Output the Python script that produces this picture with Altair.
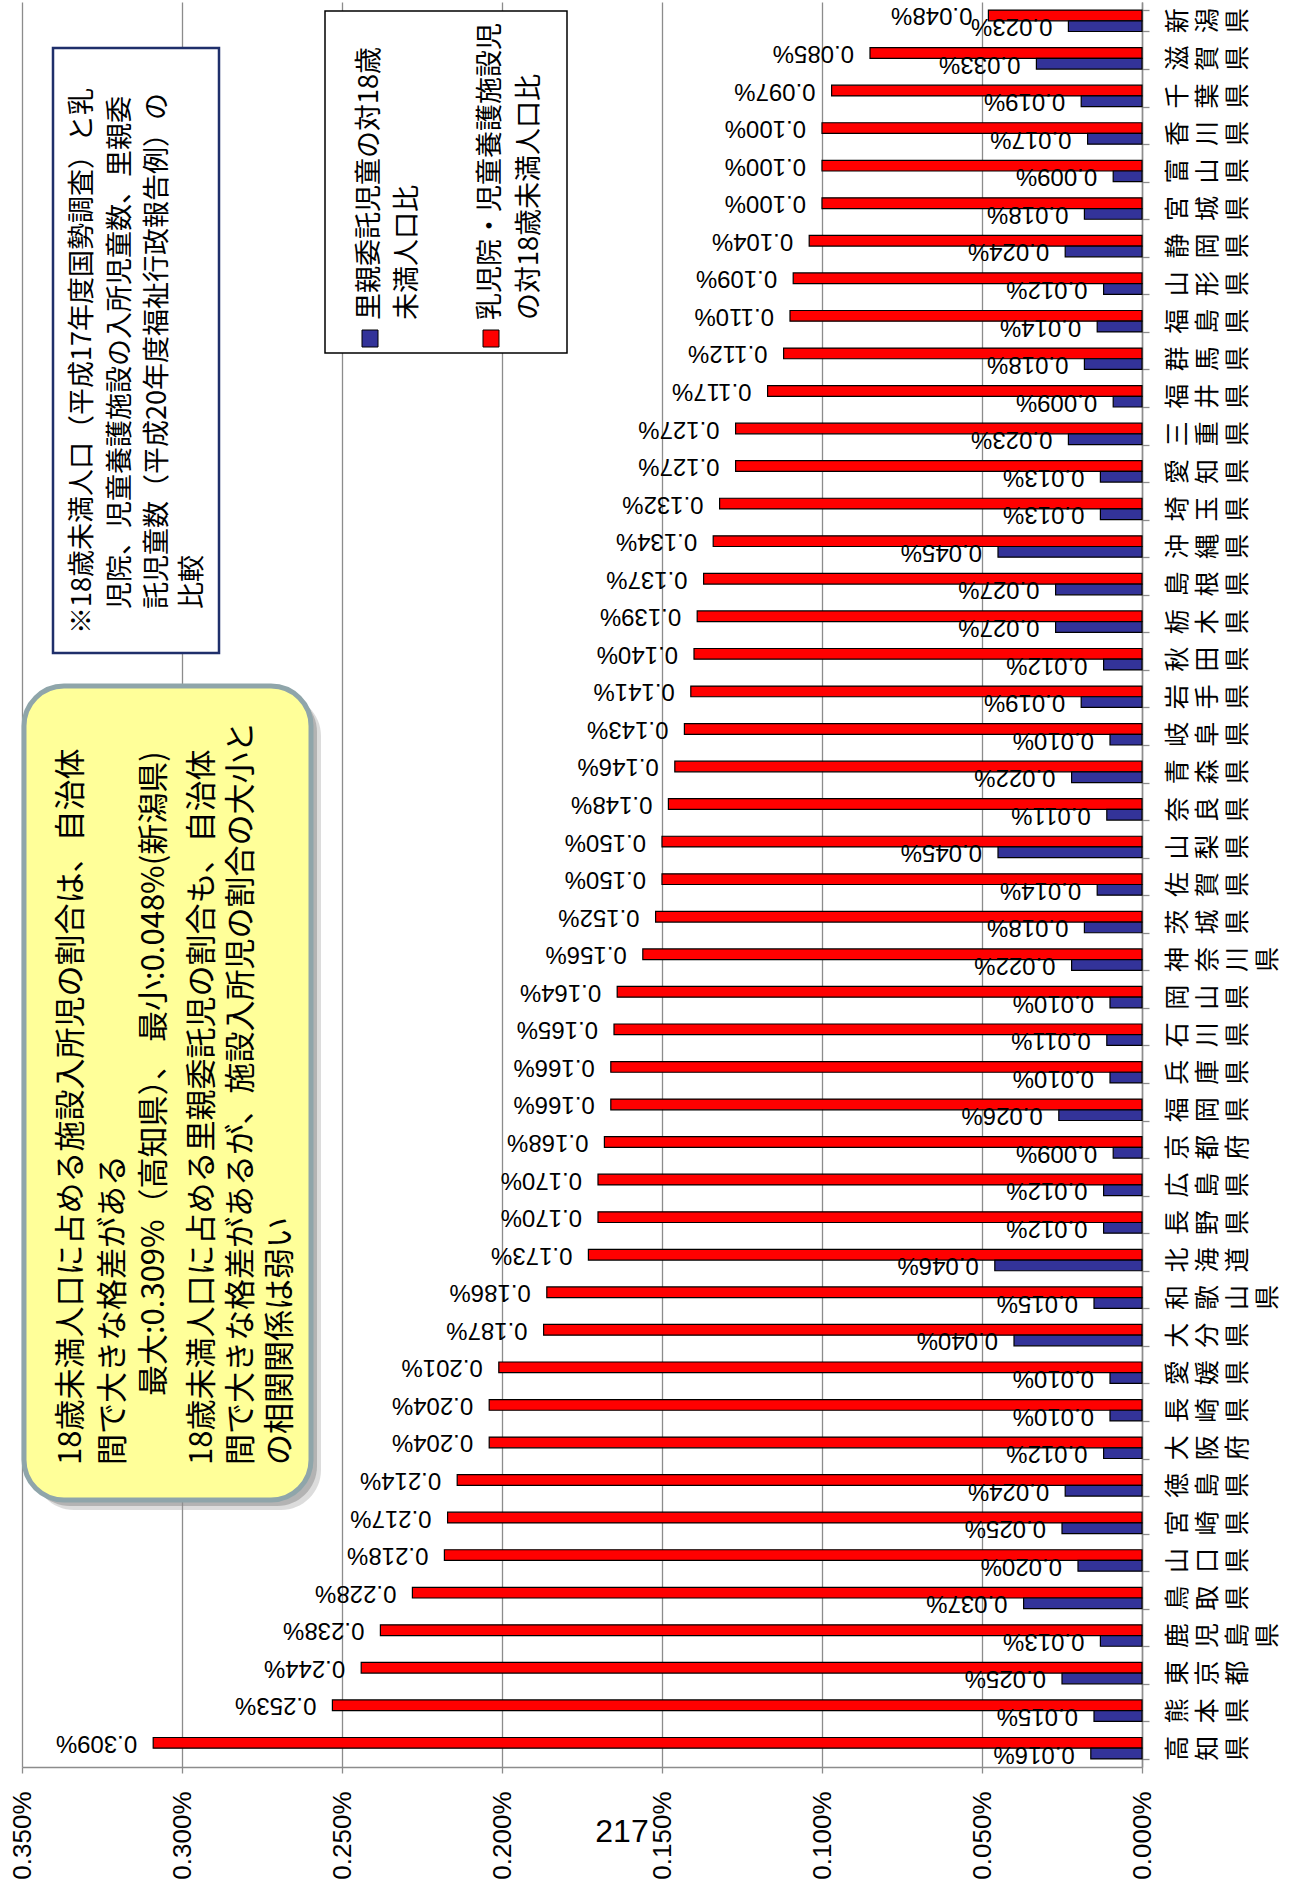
import altair as alt
import pandas as pd

# ---- data -------------------------------------------------------------
prefectures = [
    "新潟県", "滋賀県", "千葉県", "香川県", "富山県", "宮城県", "静岡県", "山形県",
    "福島県", "群馬県", "福井県", "三重県", "愛知県", "埼玉県", "沖縄県", "島根県",
    "栃木県", "秋田県", "岩手県", "岐阜県", "青森県", "奈良県", "山梨県", "佐賀県",
    "茨城県", "神奈川県", "岡山県", "石川県", "兵庫県", "福岡県", "京都府", "広島県",
    "長野県", "北海道", "和歌山県", "大分県", "愛媛県", "長崎県", "大阪府", "徳島県",
    "宮崎県", "山口県", "鳥取県", "鹿児島県", "東京都", "熊本県", "高知県",
]
# 乳児院・児童養護施設児の対18歳未満人口比 (%)
facility_ratio = [
    0.048, 0.085, 0.097, 0.100, 0.100, 0.100, 0.104, 0.109,
    0.110, 0.112, 0.117, 0.127, 0.127, 0.132, 0.134, 0.137,
    0.139, 0.140, 0.141, 0.143, 0.146, 0.148, 0.150, 0.150,
    0.152, 0.156, 0.164, 0.165, 0.166, 0.166, 0.168, 0.170,
    0.170, 0.173, 0.186, 0.187, 0.201, 0.204, 0.204, 0.214,
    0.217, 0.218, 0.228, 0.238, 0.244, 0.253, 0.309,
]
# 里親委託児童の対18歳未満人口比 (%)
foster_ratio = [
    0.023, 0.033, 0.019, 0.017, 0.009, 0.018, 0.024, 0.012,
    0.014, 0.018, 0.009, 0.023, 0.013, 0.013, 0.045, 0.027,
    0.027, 0.012, 0.019, 0.010, 0.022, 0.011, 0.045, 0.014,
    0.018, 0.022, 0.010, 0.011, 0.010, 0.026, 0.009, 0.012,
    0.012, 0.046, 0.015, 0.040, 0.010, 0.010, 0.012, 0.024,
    0.025, 0.020, 0.037, 0.013, 0.025, 0.015, 0.016,
]
series_names = ["facility", "foster"]
axis_values = [0.0, 0.05, 0.10, 0.15, 0.20, 0.25, 0.30, 0.35]

legend_foster = ["里親委託児童の対18歳", "未満人口比"]
legend_facility = ["乳児院・児童養護施設児", "の対18歳未満人口比"]
note_lines = [
    "※18歳未満人口（平成17年度国勢調査）と乳",
    "児院、児童養護施設の入所児童数、里親委",
    "託児童数（平成20年度福祉行政報告例）の",
    "比較",
]
summary_lines = [
    "18歳未満人口に占める施設入所児の割合は、自治体",
    "間で大きな格差がある",
    "最大:0.309%（高知県）、 最小:0.048%(新潟県)",
    "18歳未満人口に占める里親委託児の割合も、自治体",
    "間で大きな格差があるが、施設入所児の割合の大小と",
    "の相関関係は弱い",
]
page_number = "217"

# ---- styling ----------------------------------------------------------
JP = "Noto Sans CJK JP"
NUM = "Liberation Sans, Arial"
GRAY = "#8C8C8C"
RED = "#FF0000"
NAVY = "#333399"

W, H = 1120, 1765
OX, OY = 22, 2          # plot origin on the page

rows = []
for p, a, b in zip(prefectures, facility_ratio, foster_ratio):
    rows.append({"pref": p, "series": "facility", "value": a, "label": f"{a:.3f}%"})
    rows.append({"pref": p, "series": "foster", "value": b, "label": f"{b:.3f}%"})
df = pd.DataFrame(rows)
pref_df = pd.DataFrame({"pref": prefectures})
one = pd.DataFrame({"k": [0]})

y_enc = alt.Y(
    "pref:N", sort=prefectures,
    scale=alt.Scale(paddingInner=0.43, paddingOuter=0.215),
    axis=alt.Axis(orient="right", labels=False, title=None, grid=False,
                  tickBand="extent", tickSize=7, tickColor=GRAY, tickWidth=1.3,
                  domainColor=GRAY, domainWidth=1.5),
)
x_enc = alt.X(
    "value:Q",
    scale=alt.Scale(domain=[0, 0.35], reverse=True, nice=False, zero=True),
    axis=alt.Axis(values=axis_values, title=None,
                  labelExpr="format(datum.value, '.3f') + '%'",
                  labelAngle=270, labelFont=NUM, labelFontSize=26,
                  labelColor="black", labelPadding=18,
                  tickSize=6, tickColor=GRAY, tickWidth=1.3,
                  domainColor=GRAY, domainWidth=1.5,
                  grid=True, gridColor=GRAY, gridWidth=1.3),
)
yoff = alt.YOffset("series:N", sort=series_names)
color = alt.Color("series:N", scale=alt.Scale(domain=series_names, range=[RED, NAVY]),
                  legend=None)

bars = alt.Chart(df).mark_bar(stroke="black", strokeWidth=1.2).encode(
    x=x_enc, y=y_enc, yOffset=yoff, color=color)

value_labels = alt.Chart(df).mark_text(
    angle=180, align="left", baseline="middle", dx=16,
    font=NUM, fontSize=24, color="black",
).encode(x=x_enc, y=y_enc, yOffset=yoff, text="label:N")

# prefecture names: one rotated glyph per character, laid left to right
name_layers = []
for i in range(4):
    name_layers.append(
        alt.Chart(pref_df)
        .transform_filter(f"length(datum.pref) > {i}")
        .transform_calculate(ch=f"substring(datum.pref, {i}, {i + 1})")
        .mark_text(angle=270, align="center", baseline="middle",
                   font=JP, fontSize=25, color="black")
        .encode(y=y_enc, x=alt.value(1178 + 30 * i - OX), text="ch:N")
    )


def box(x0, y0, x1, y1, **kw):
    return alt.Chart(one).mark_rect(**kw).encode(
        x=alt.value(x0 - OX), x2=alt.value(x1 - OX),
        y=alt.value(y0 - OY), y2=alt.value(y1 - OY))


def vtext(txt, cx, y0, size, font=JP):
    return alt.Chart(one).mark_text(
        angle=270, align="left", baseline="middle",
        font=font, fontSize=size, color="black",
    ).encode(x=alt.value(cx - OX), y=alt.value(y0 - OY), text=alt.value(txt))


# summary callout (rounded yellow box with soft shadow)
callout = [
    box(34, 696, 321, 1510, fill="#9A9A9A", opacity=0.35, cornerRadius=40),
    box(30, 692, 317, 1506, fill="#8A8A8A", opacity=0.5, cornerRadius=40),
    box(24, 686, 311, 1500, fill="#FFFF99", stroke="#8FA5AA", strokeWidth=5,
        cornerRadius=40),
]
summary_x = [72, 114, 155, 203, 242, 281]
summary_y = [1465, 1465, 1396, 1465, 1465, 1465]
for t, cx, y0 in zip(summary_lines, summary_x, summary_y):
    callout.append(vtext(t, cx, y0, 31))

# source note box
note = [box(53, 48, 219, 653, fill="white", stroke="#1F2F6B", strokeWidth=2.5)]
note_x = [83, 121, 158, 193]
note_y = [634, 609, 609, 609]
for t, cx, y0 in zip(note_lines, note_x, note_y):
    note.append(vtext(t, cx, y0, 27))

# legend
legend = [
    box(325, 11, 567, 353, fill="white", stroke="black", strokeWidth=1.5),
    box(362, 330, 378, 347, fill=NAVY, stroke="black", strokeWidth=1),
    box(483, 330, 499, 347, fill=RED, stroke="black", strokeWidth=1),
]
for t, cx in zip(legend_foster + legend_facility, [370, 408, 491, 530]):
    legend.append(vtext(t, cx, 320, 27))

page = alt.Chart(one).mark_text(
    align="center", baseline="alphabetic", font="Liberation Sans",
    fontSize=32, color="black",
).encode(x=alt.value(622 - OX), y=alt.value(1842 - OY), text=alt.value(page_number))

chart = alt.layer(
    *callout, *note, *legend, bars, value_labels, *name_layers, page
).properties(
    width=W, height=H,
    autosize=alt.AutoSizeParams(type="none"),
    padding={"left": OX, "top": OY, "right": 1298 - OX - W, "bottom": 1893 - OY - H},
    background="white",
).configure_view(strokeWidth=0)

chart.save("out.html", embed_options={"renderer": "svg", "actions": False})
